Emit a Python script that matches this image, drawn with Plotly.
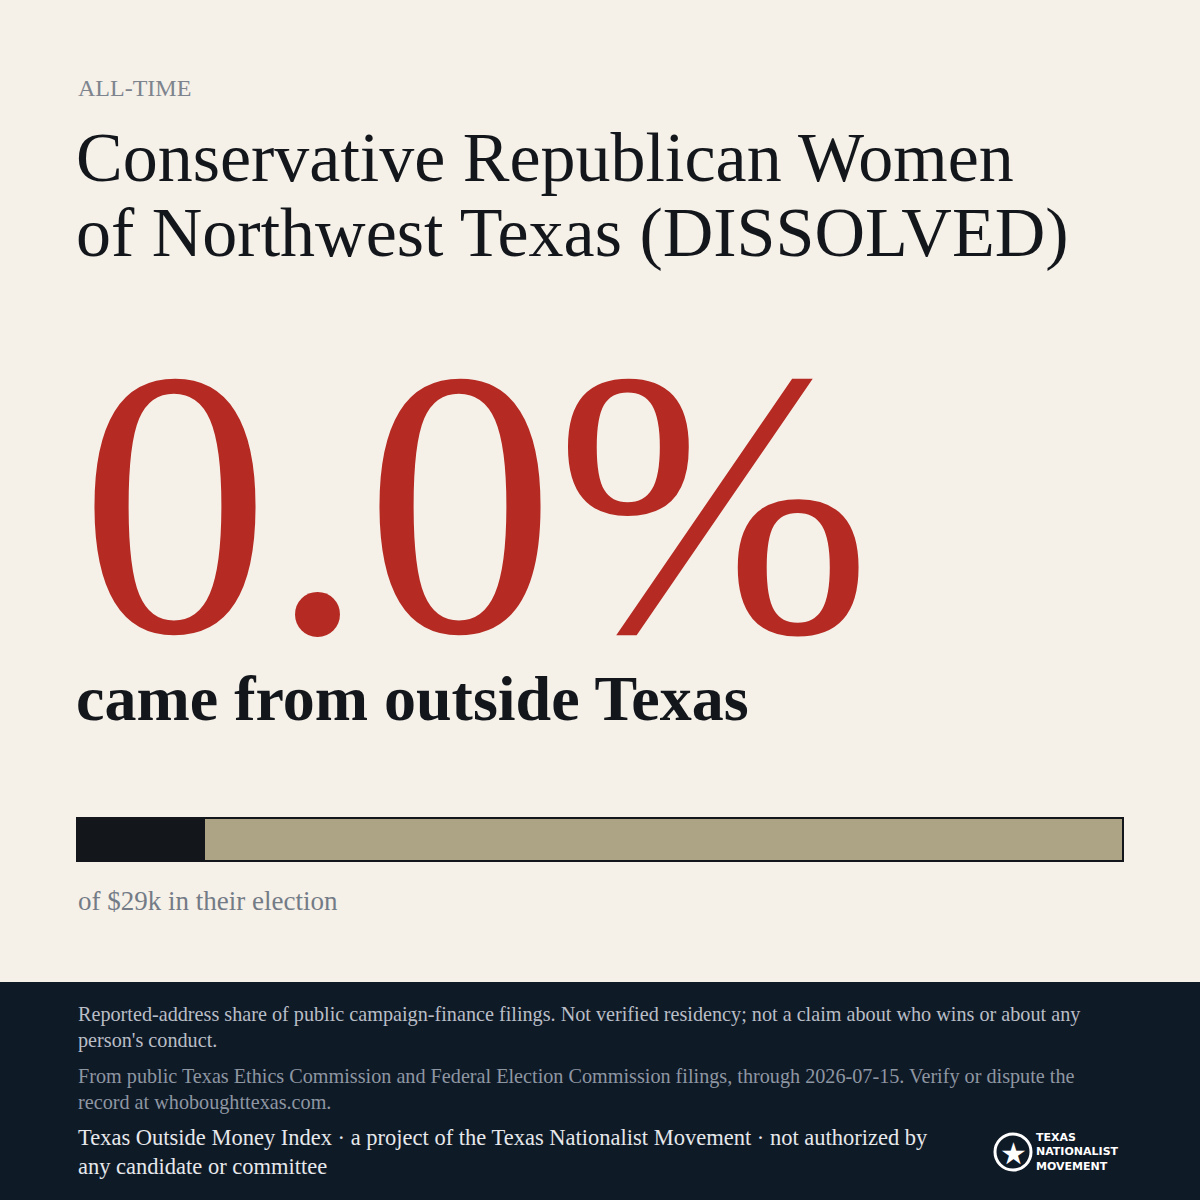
import plotly.graph_objects as go

eyebrow = "ALL-TIME"
title_lines = ["Conservative Republican Women", "of Northwest Texas (DISSOLVED)"]
headline_value = "0.0%"
headline_sub = "came from outside Texas"
bar_labels = ["filled", "rest"]
bar_values = [12.2, 87.8]
bar_colors = ["#13171c", "#ada385"]
bar_caption = "of $29k in their election"
footer_lines = [
    ("Reported-address share of public campaign-finance filings. Not verified residency; not a claim about who wins or about any<br>person's conduct.", "#b9bec6", 1027, 20.2),
    ("From public Texas Ethics Commission and Federal Election Commission filings, through 2026-07-15. Verify or dispute the<br>record at whoboughttexas.com.", "#8e96a2", 1089, 20.2),
    ("Texas Outside Money Index · a project of the Texas Nationalist Movement · not authorized by<br>any candidate or committee", "#e6e8eb", 1152, 22.5),
]

W = H = 1200
def py(p): return 1 - p / H
def px(p): return p / W

fig = go.Figure()
for lab, v, c in zip(bar_labels, bar_values, bar_colors):
    fig.add_trace(go.Bar(x=[v], y=[0], orientation="h", marker=dict(color=c, line=dict(width=0)),
                         name=lab, hoverinfo="skip", width=1))

serif = "Liberation Serif, DejaVu Serif, serif"
ann = []
ann.append(dict(text=eyebrow, x=px(76), y=py(88), font=dict(family=serif, size=24, color="#7d848e")))
ann.append(dict(text=title_lines[0], x=px(74), y=py(158), font=dict(family=serif, size=70, color="#13171c")))
ann.append(dict(text=title_lines[1], x=px(74), y=py(233), font=dict(family=serif, size=70, color="#13171c")))
ann.append(dict(text=headline_value, x=px(78), y=py(503), height=300, font=dict(family=serif, size=380, color="#b52a22")))
ann.append(dict(text="<b>" + headline_sub + "</b>", x=px(74), y=py(698), font=dict(family=serif, size=64, color="#13171c")))
ann.append(dict(text=bar_caption, x=px(76), y=py(901), font=dict(family=serif, size=27, color="#737b86")))
for t, c, yy, s in footer_lines:
    ann.append(dict(text=t, x=px(76), y=py(yy), font=dict(family=serif, size=s, color=c)))
ann.append(dict(text="<b>TEXAS<br>NATIONALIST<br>MOVEMENT</b>", x=px(1034), y=py(1152),
                font=dict(family="DejaVu Sans, sans-serif", size=11, color="white")))
for a in ann:
    a.update(xref="paper", yref="paper", xanchor="left", yanchor="middle", showarrow=False, align="left")

shapes = [
    dict(type="rect", xref="paper", yref="paper", x0=0, x1=1, y0=0, y1=py(982), fillcolor="#0f1a27", line=dict(width=0), layer="below"),
    dict(type="rect", xref="paper", yref="paper", x0=px(77), x1=px(1123), y0=py(861), y1=py(818), line=dict(color="#13171c", width=2), fillcolor="rgba(0,0,0,0)"),
    dict(type="circle", xref="paper", yref="paper", x0=px(995), x1=px(1031), y0=py(1170), y1=py(1134), line=dict(color="white", width=3)),
]
ann.append(dict(text="★", x=px(1013), y=py(1152), xref="paper", yref="paper", showarrow=False,
                font=dict(size=30, color="white"), xanchor="center", yanchor="middle"))

fig.update_layout(
    width=W, height=H, margin=dict(l=0, r=0, t=0, b=0),
    paper_bgcolor="#f5f0e8", plot_bgcolor="rgba(0,0,0,0)",
    barmode="stack", showlegend=False, bargap=0,
    xaxis=dict(domain=[px(77), px(1123)], range=[0, 100], visible=False, fixedrange=True),
    yaxis=dict(domain=[py(861), py(818)], range=[-0.5, 0.5], visible=False, fixedrange=True),
    annotations=ann, shapes=shapes,
)
fig.write_html("out.html", config={"displayModeBar": False},
               post_script="document.body.style.margin='0';document.body.style.background='#f5f0e8';")
